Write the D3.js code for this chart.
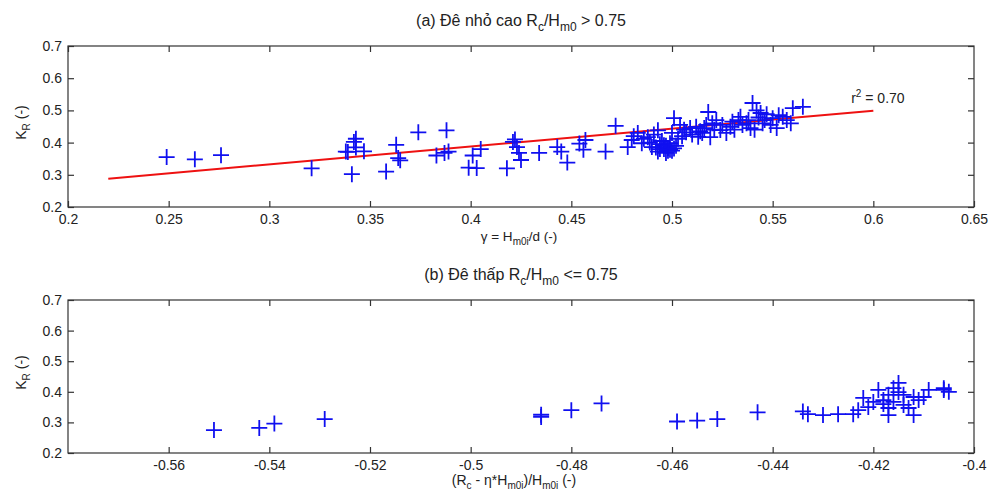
<!DOCTYPE html>
<html><head><meta charset="utf-8">
<script src="https://cdn.jsdelivr.net/npm/d3@7"></script>
<style>
body{margin:0;background:#fff;}
text{font-family:"Liberation Sans",Arial,sans-serif;fill:#222;}
</style></head>
<body><svg id="c" width="995" height="493"></svg>
<script>
// ---------- data ----------
const topTicksX = [0.2,0.25,0.3,0.35,0.4,0.45,0.5,0.55,0.6,0.65];
const ticksY = [0.2,0.3,0.4,0.5,0.6,0.7];
const botTicksX = [-0.56,-0.54,-0.52,-0.5,-0.48,-0.46,-0.44,-0.42,-0.4];

const topGamma = [0.249,0.263,0.276,0.321,0.338,0.342,0.343,0.343,0.339,0.347,0.341,0.358,0.363,0.364,0.365,0.374,0.388,0.383,0.387,0.389,0.399,0.403,0.401,0.405,0.418,0.421,0.422,0.423,0.424,0.425,0.434,0.443,0.445,0.448,0.454,0.457,0.456,0.467,0.472,0.478,0.480,0.481,0.483,0.485,0.486,0.488,0.489,0.490,0.491,0.493,0.494,0.495,0.496,0.497,0.498,0.499,0.500,0.500,0.501,0.502,0.503,0.504,0.505,0.506,0.507,0.509,0.510,0.512,0.513,0.514,0.515,0.516,0.517,0.518,0.519,0.520,0.521,0.522,0.524,0.525,0.527,0.529,0.530,0.531,0.533,0.534,0.535,0.537,0.538,0.539,0.540,0.541,0.542,0.543,0.544,0.545,0.546,0.547,0.549,0.550,0.552,0.553,0.555,0.557,0.559,0.560,0.565,0.493,0.497,0.499,0.492,0.496,0.494,0.498,0.501];
const topKR    = [0.355,0.348,0.361,0.320,0.372,0.402,0.412,0.385,0.371,0.373,0.302,0.310,0.393,0.352,0.345,0.432,0.438,0.360,0.368,0.372,0.322,0.321,0.360,0.380,0.320,0.402,0.410,0.386,0.368,0.346,0.368,0.386,0.372,0.338,0.397,0.408,0.378,0.372,0.452,0.386,0.408,0.420,0.430,0.398,0.412,0.417,0.400,0.386,0.425,0.438,0.395,0.405,0.380,0.390,0.383,0.398,0.375,0.430,0.476,0.390,0.412,0.455,0.420,0.440,0.432,0.445,0.425,0.449,0.418,0.435,0.430,0.445,0.455,0.495,0.417,0.460,0.440,0.470,0.439,0.455,0.430,0.449,0.465,0.440,0.470,0.480,0.455,0.460,0.470,0.445,0.523,0.440,0.500,0.478,0.492,0.460,0.470,0.488,0.455,0.476,0.445,0.485,0.480,0.470,0.460,0.507,0.511,0.372,0.368,0.378,0.385,0.392,0.380,0.375,0.382];

const fitX = [0.22, 0.6];
const fitY = [0.288, 0.499];

const botX  = [-0.551,-0.542,-0.539,-0.529,-0.486,-0.486,-0.480,-0.474,-0.459,-0.455,-0.451,-0.443,-0.434,-0.433,-0.430,-0.427,-0.424,-0.423,-0.422,-0.421,-0.419,-0.418,-0.418,-0.417,-0.417,-0.416,-0.416,-0.415,-0.414,-0.414,-0.413,-0.412,-0.412,-0.411,-0.410,-0.409,-0.406,-0.406,-0.405,-0.420,-0.417,-0.415];
const botKR = [0.275,0.282,0.296,0.311,0.325,0.318,0.340,0.362,0.303,0.306,0.311,0.333,0.336,0.327,0.324,0.327,0.327,0.340,0.380,0.350,0.406,0.360,0.373,0.347,0.324,0.412,0.367,0.429,0.390,0.357,0.347,0.324,0.383,0.373,0.383,0.406,0.406,0.412,0.400,0.367,0.390,0.399];

// ---------- layout ----------
const svg = d3.select("#c");
const L = 68, R = 974;
const panels = [
  {top:46, bot:207, xdom:[0.2,0.65], xt:topTicksX, xs:topGamma, ys:topKR},
  {top:300, bot:453, xdom:[-0.58,-0.4], xt:botTicksX, xs:botX, ys:botKR}
];
const fmt = d => String(+d.toFixed(2));
const TL = 6;

// rich text helper: parts = [[string, mode]] where mode 0 normal, 1 sub, 2 sup
function rich(t, parts, base, small, off){
  let cur = 0;
  parts.forEach(([s,m])=>{
    m = m||0;
    const target = m===1 ? off : (m===2 ? -off-2 : 0);
    const ts = t.append("tspan").attr("dy", target-cur).attr("font-size", m ? small : base).text(s);
    cur = target;
  });
}

panels.forEach((p,i)=>{
  const x = d3.scaleLinear().domain(p.xdom).range([L,R]);
  const y = d3.scaleLinear().domain([0.2,0.7]).range([p.bot,p.top]);
  p.x = x; p.y = y;
  const g = svg.append("g");
  g.append("rect").attr("x",L).attr("y",p.top).attr("width",R-L).attr("height",p.bot-p.top)
    .attr("fill","none").attr("stroke","#333").attr("stroke-width",1.2);
  const styleAxis = (sel, hide)=>{
    sel.select(".domain").remove();
    sel.selectAll(".tick line").attr("stroke","#333").attr("stroke-width",1.2);
    sel.selectAll(".tick text").attr("font-size", 14).attr("fill","#222")
      .style("font-family","Liberation Sans, Arial, sans-serif");
    if(hide) sel.selectAll(".tick text").remove();
  };
  g.append("g").attr("transform",`translate(0,${p.bot})`)
    .call(d3.axisBottom(x).tickValues(p.xt).tickFormat(fmt).tickSizeInner(-TL).tickSizeOuter(0).tickPadding(7))
    .call(s=>styleAxis(s,false));
  g.append("g").attr("transform",`translate(0,${p.top})`)
    .call(d3.axisTop(x).tickValues(p.xt.filter(v=>v!==p.xdom[1])).tickSizeInner(-TL).tickSizeOuter(0))
    .call(s=>styleAxis(s,true));
  g.append("g").attr("transform",`translate(${L},0)`)
    .call(d3.axisLeft(y).tickValues(ticksY).tickFormat(fmt).tickSizeInner(-TL).tickSizeOuter(0).tickPadding(6))
    .call(s=>styleAxis(s,false));
  g.append("g").attr("transform",`translate(${R},0)`)
    .call(d3.axisRight(y).tickValues(ticksY).tickSizeInner(-TL).tickSizeOuter(0))
    .call(s=>styleAxis(s,true));

  if(i===0){
    g.append("path").datum(fitX.map((v,k)=>[v,fitY[k]]))
      .attr("d", d3.line().x(d=>x(d[0])).y(d=>y(d[1])))
      .attr("stroke","#ee1111").attr("stroke-width",2).attr("fill","none");
  }
  const pts = p.xs.map((v,k)=>[v,p.ys[k]]);
  const s = 8;
  g.append("g").selectAll("path").data(pts).join("path")
    .attr("d", d=>{const cx=x(d[0]), cy=y(d[1]); return `M${cx-s},${cy}H${cx+s}M${cx},${cy-s}V${cy+s}`;})
    .attr("stroke","#1010f0").attr("stroke-width",1.8).attr("fill","none");

  const yl = g.append("text").attr("transform",`translate(26,${(p.top+p.bot)/2 - 4}) rotate(-90)`)
    .attr("text-anchor","middle");
  rich(yl, [["K"],["R",1],[" (-)"]], 14, 10, 4);
});

// titles
const t1 = svg.append("text").attr("x",521).attr("y",26).attr("text-anchor","middle");
rich(t1, [["(a) Đê nhỏ cao R"],["c",1],["/H"],["m0",1],[" > 0.75"]], 16, 12, 5);
const t2 = svg.append("text").attr("x",521).attr("y",280).attr("text-anchor","middle");
rich(t2, [["(b) Đê thấp R"],["c",1],["/H"],["m0",1],[" <= 0.75"]], 16, 12, 5);

// x labels
const xl1 = svg.append("text").attr("x",519).attr("y",241).attr("text-anchor","middle");
rich(xl1, [["γ = H"],["m0i",1],["/d (-)"]], 13.5, 10, 4);
const xl2 = svg.append("text").attr("x",514).attr("y",485).attr("text-anchor","middle");
rich(xl2, [["(R"],["c",1],[" - η*H"],["m0i",1],[")/H"],["m0i",1],[" (-)"]], 14, 10, 4);

// r^2 label
const r2 = svg.append("text").attr("x",panels[0].x(0.589)).attr("y",103);
rich(r2, [["r"],["2",2],[" = 0.70"]], 14, 10, 4);
</script></body></html>
